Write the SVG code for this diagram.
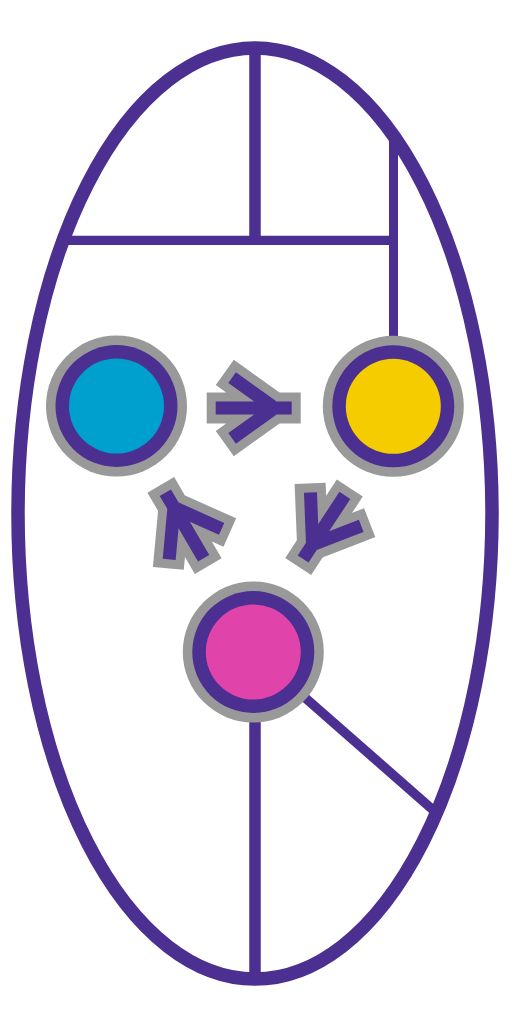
<svg xmlns="http://www.w3.org/2000/svg" xmlns:xlink="http://www.w3.org/1999/xlink" width="512" height="1024" viewBox="0 0 512 1024">
  <style>
    .frame { fill: none; stroke: #4B2F91; }
    .ring-outer { fill: #999999; }
    .ring { fill: #4B2F91; }
    .arrow-halo { fill: none; stroke: #999999; stroke-width: 31; stroke-linecap: square; stroke-linejoin: miter; stroke-miterlimit: 6; }
    .arrow-body { fill: none; stroke: #4B2F91; stroke-width: 13; stroke-linecap: square; stroke-linejoin: miter; stroke-miterlimit: 6; }
  </style>
  <defs>
    <path id="arrow-shape" d="M-31.5,0 L31.5,0 M-16.3,-26.6 L20.9,0 L-16.3,26.6"/>
  </defs>
  <rect x="0" y="0" width="512" height="1024" fill="#ffffff"/>

  <g id="frame">
    <line class="frame" x1="255" y1="48" x2="255" y2="240" stroke-width="11.5"/>
    <line class="frame" x1="63" y1="240.3" x2="398" y2="240.3" stroke-width="9.3"/>
    <line class="frame" x1="393.5" y1="136" x2="393.5" y2="406" stroke-width="9"/>
    <line class="frame" x1="255" y1="652" x2="255" y2="979" stroke-width="11.5"/>
    <line class="frame" x1="253" y1="652" x2="436.5" y2="813" stroke-width="9.5"/>
    <ellipse class="frame" cx="255" cy="513.5" rx="237" ry="465.5" stroke-width="13.5"/>
  </g>

  <g id="connectors">
    <g id="arrow-blue-yellow" transform="translate(253.7,408)">
      <use xlink:href="#arrow-shape" class="arrow-halo"/>
      <use xlink:href="#arrow-shape" class="arrow-body"/>
    </g>
    <g id="arrow-yellow-pink" transform="translate(324,527.2) rotate(123.3)">
      <use xlink:href="#arrow-shape" class="arrow-halo"/>
      <use xlink:href="#arrow-shape" class="arrow-body"/>
    </g>
    <g id="arrow-pink-blue" transform="translate(184.5,525.5) rotate(-120.3)">
      <use xlink:href="#arrow-shape" class="arrow-halo"/>
      <use xlink:href="#arrow-shape" class="arrow-body"/>
    </g>
  </g>

  <g id="node-blue">
    <circle class="ring-outer" cx="116.5" cy="406" r="70.5"/>
    <circle class="ring" cx="116.5" cy="406" r="61"/>
    <circle cx="116.5" cy="406" r="47.5" fill="#00A0CE"/>
  </g>
  <g id="node-yellow">
    <circle class="ring-outer" cx="393.3" cy="406.3" r="70.5"/>
    <circle class="ring" cx="393.3" cy="406.3" r="61"/>
    <circle cx="393.3" cy="406.3" r="47.5" fill="#F5CC00"/>
  </g>
  <g id="node-pink">
    <circle class="ring-outer" cx="253.3" cy="652" r="70.5"/>
    <circle class="ring" cx="253.3" cy="652" r="61"/>
    <circle cx="253.3" cy="652" r="47.5" fill="#E043A9"/>
  </g>
</svg>
